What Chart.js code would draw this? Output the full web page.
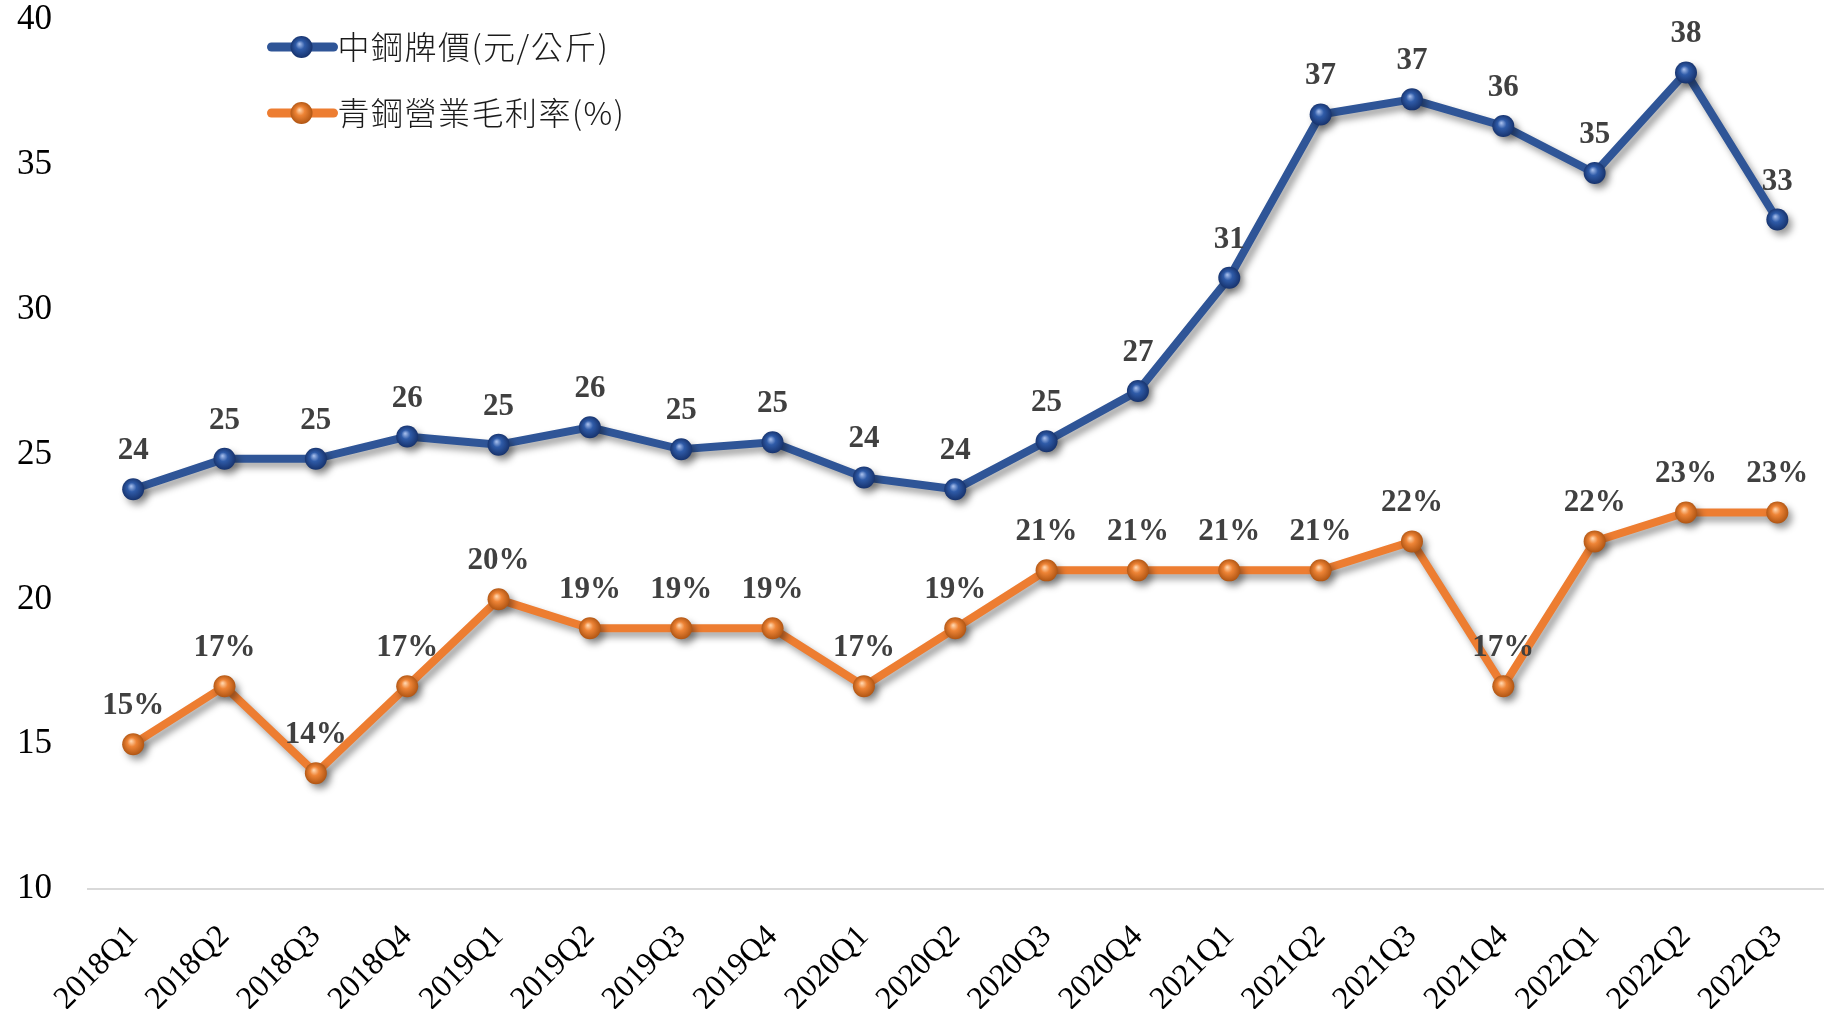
<!DOCTYPE html>
<html>
<head>
<meta charset="utf-8">
<script src="https://cdn.jsdelivr.net/npm/chart.js@4.4.1/dist/chart.umd.min.js"></script>
<style>
html,body{margin:0;padding:0;background:#fff;overflow:hidden}
#wrap{width:1830px;height:1009px;position:relative}
</style>
</head>
<body>
<div id="wrap"><canvas id="c" width="1830" height="1009"></canvas></div>
<script>
// ---- data ----
const categories = ['2018Q1','2018Q2','2018Q3','2018Q4','2019Q1','2019Q2','2019Q3','2019Q4','2020Q1','2020Q2','2020Q3','2020Q4','2021Q1','2021Q2','2021Q3','2021Q4','2022Q1','2022Q2','2022Q3'];
const steelPrice = [23.8,24.85,24.85,25.62,25.34,25.94,25.18,25.42,24.21,23.8,25.46,27.19,31.1,36.74,37.26,36.34,34.72,38.19,33.11];
const grossMargin = [15,17,14,17,20,19,19,19,17,19,21,21,21,21,22,17,22,23,23];
const yTicks = [10,15,20,25,30,35,40];
const seriesNames = ['中鋼牌價(元/公斤)','青鋼營業毛利率(%)'];

// ---- styles ----
const BLUE = '#2F5597';
const ORANGE = '#ED7D31';
const sphereStops = {
  blue:   ['#9fb8e8', '#2f5ba8', '#142e66'],
  orange: ['#ffd2a8', '#ee8436', '#a9500f']
};

function sphereFill(stops, base) {
  return (ctx) => {
    if (ctx.type !== 'data') return base;
    const chart = ctx.chart;
    const xs = chart.scales.x, ys = chart.scales.y;
    if (!xs || !ys) return base;
    const x = xs.getPixelForValue(ctx.dataIndex);
    const y = ys.getPixelForValue(ctx.raw);
    if (!isFinite(x) || !isFinite(y)) return base;
    const g = chart.ctx.createRadialGradient(x - 2, y - 3, 0.5, x, y, 12);
    g.addColorStop(0, stops[0]);
    g.addColorStop(0.35, stops[1]);
    g.addColorStop(1, stops[2]);
    return g;
  };
}

const shadowPlugin = {
  id: 'shadow',
  beforeDatasetDraw(chart) {
    const c = chart.ctx;
    c.save();
    c.shadowColor = 'rgba(0,0,0,0.38)';
    c.shadowBlur = 7;
    c.shadowOffsetX = 4;
    c.shadowOffsetY = 5;
  },
  afterDatasetDraw(chart) { chart.ctx.restore(); }
};

const formatters = [v => String(Math.round(v)), v => Math.round(v) + '%'];

const labelPlugin = {
  id: 'valueLabels',
  afterDatasetsDraw(chart) {
    const c = chart.ctx;
    c.save();
    c.font = 'bold 31px "Liberation Serif"';
    c.fillStyle = '#404040';
    c.textAlign = 'center';
    c.textBaseline = 'middle';
    chart.data.datasets.forEach((ds, i) => {
      const meta = chart.getDatasetMeta(i);
      meta.data.forEach((pt, j) => {
        c.fillText(formatters[i](ds.data[j]), pt.x, pt.y - 38);
      });
    });
    c.restore();
  }
};

const legendPlugin = {
  id: 'customLegend',
  afterDraw(chart) {
    const c = chart.ctx;
    const a = chart.chartArea;
    const items = [
      {name: seriesNames[0], color: BLUE, stops: sphereStops.blue, y: 47},
      {name: seriesNames[1], color: ORANGE, stops: sphereStops.orange, y: 113}
    ];
    c.save();
    items.forEach(it => {
      const x0 = a.left + 184, x1 = a.left + 246, cx = a.left + 214;
      c.strokeStyle = it.color; c.lineWidth = 9; c.lineCap = 'round';
      c.beginPath(); c.moveTo(x0, it.y); c.lineTo(x1, it.y); c.stroke();
      const g = c.createRadialGradient(cx - 2, it.y - 3, 0.5, cx, it.y, 12);
      g.addColorStop(0, it.stops[0]); g.addColorStop(0.35, it.stops[1]); g.addColorStop(1, it.stops[2]);
      c.fillStyle = g;
      c.beginPath(); c.arc(cx, it.y, 11, 0, Math.PI * 2); c.fill();
      c.fillStyle = '#1a1a1a';
      c.font = '300 32px "Noto Sans CJK TC"';
      if ('letterSpacing' in c) c.letterSpacing = '1.5px';
      c.textAlign = 'left'; c.textBaseline = 'middle';
      c.fillText(it.name, a.left + 250, it.y);
      if ('letterSpacing' in c) c.letterSpacing = '0px';
    });
    c.restore();
  }
};

new Chart(document.getElementById('c'), {
  type: 'line',
  data: {
    labels: categories,
    datasets: [
      {
        label: seriesNames[0], data: steelPrice,
        borderColor: BLUE, borderWidth: 8, tension: 0,
        pointRadius: 11, pointBorderWidth: 0,
        pointBackgroundColor: sphereFill(sphereStops.blue, BLUE),
        pointBorderColor: 'rgba(0,0,0,0)'
      },
      {
        label: seriesNames[1], data: grossMargin,
        borderColor: ORANGE, borderWidth: 8, tension: 0,
        pointRadius: 11, pointBorderWidth: 0,
        pointBackgroundColor: sphereFill(sphereStops.orange, ORANGE),
        pointBorderColor: 'rgba(0,0,0,0)'
      }
    ]
  },
  options: {
    responsive: false,
    animation: false,
    devicePixelRatio: 1,
    layout: { autoPadding: false, padding: { left: 17, right: 7, top: 20, bottom: 0 } },
    plugins: { legend: { display: false }, tooltip: { enabled: false } },
    scales: {
      x: {
        offset: true,
        afterFit: s => { s.height = 120; s.paddingRight = 0; },
        grid: { display: false, drawTicks: false, tickLength: 0 },
        border: { display: true, color: '#d9d9d9', width: 2 },
        ticks: {
          minRotation: 45, maxRotation: 45, autoSkip: false, padding: 29,
          color: '#000', font: { family: 'Liberation Serif', size: 32 }
        }
      },
      y: {
        min: 10, max: 40,
        afterBuildTicks: s => { s.ticks = yTicks.map(v => ({ value: v })); },
        afterFit: s => { s.width = 70.5; },
        grid: { display: false, drawTicks: false, tickLength: 0 },
        border: { display: false },
        ticks: { padding: 0, crossAlign: 'far', color: '#000', font: { family: 'Liberation Serif', size: 35, lineHeight: 1.1 } }
      }
    }
  },
  plugins: [shadowPlugin, labelPlugin, legendPlugin]
});
</script>
</body>
</html>
